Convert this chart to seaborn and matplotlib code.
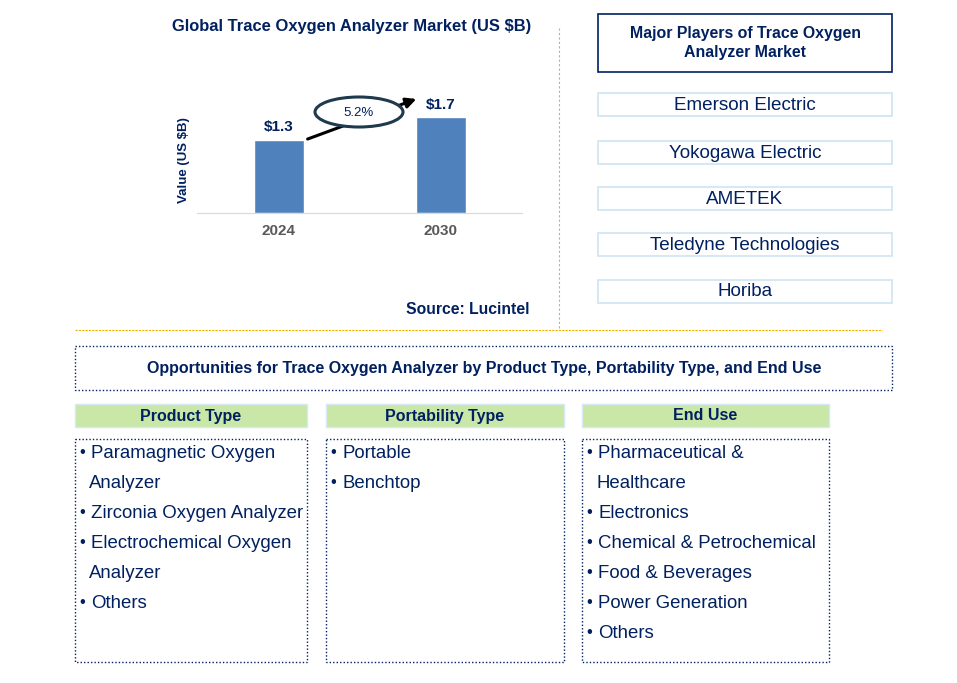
import matplotlib
matplotlib.use("Agg")
import matplotlib.pyplot as plt
from matplotlib.patches import Rectangle, Ellipse
import seaborn as sns
import pandas as pd

# chart data
years = ["2024", "2030"]
values = [1.3, 1.7]
cagr = "5.2%"

players = ["Emerson Electric", "Yokogawa Electric", "AMETEK",
           "Teledyne Technologies", "Horiba"]

segment_titles = ["Product Type", "Portability Type", "End Use"]
product_items = ["Paramagnetic Oxygen\nAnalyzer", "Zirconia Oxygen Analyzer",
                 "Electrochemical Oxygen\nAnalyzer", "Others"]
portability_items = ["Portable", "Benchtop"]
end_use_items = ["Pharmaceutical &\nHealthcare", "Electronics", "Chemical & Petrochemical",
                 "Food & Beverages", "Power Generation", "Others"]

NAVY = "#002060"
BAR = "#4f81bd"
W, H = 957, 683

sns.set_style("white")
plt.rcParams['font.family'] = ['Liberation Sans', 'DejaVu Sans']

fig = plt.figure(figsize=(W / 100, H / 100), dpi=100)

# bar chart
ax = fig.add_axes([197 / W, 1 - 213 / H, 325 / W, 153 / H])
df = pd.DataFrame({"year": years, "value": values})
sns.barplot(data=df, x="year", y="value", color=BAR, width=0.31, saturation=1, ax=ax)
ax.set_xlim(-0.506, 1.5)
ax.set_ylim(0, 153 / 56.2)
ax.set_yticks([])
ax.set_xlabel("")
ax.set_ylabel("")
ax.patch.set_alpha(0)
for s in ["top", "right", "left"]:
    ax.spines[s].set_visible(False)
ax.spines["bottom"].set_color("#d9d9d9")
ax.tick_params(axis="x", length=0, pad=8)
for lab in ax.get_xticklabels():
    lab.set_fontweight("bold")
    lab.set_fontsize(11)
    lab.set_color("#595959")
for i, v in enumerate(values):
    ax.text(i, v + 0.1, f"${v}", ha="center", va="bottom", fontsize=11,
            fontweight="bold", color=NAVY)

# overlay axes in pixel coordinates
ov = fig.add_axes([0, 0, 1, 1])
ov.set_xlim(0, W)
ov.set_ylim(H, 0)
ov.axis("off")

ov.text(352, 27, "Global Trace Oxygen Analyzer Market (US $B)", ha="center", va="center",
        fontsize=11.9, fontweight="bold", color=NAVY)
ov.text(184, 160, "Value (US $B)", ha="center", va="center", rotation=90,
        fontsize=9.5, fontweight="bold", color=NAVY)
ov.annotate("", xy=(419, 98), xytext=(305, 140),
            arrowprops=dict(arrowstyle="-|>,head_width=0.3,head_length=0.6", color="black", lw=2.2))
ov.add_patch(Ellipse((359, 112), 88, 30, facecolor="white", edgecolor="#1f3a4d", lw=2.2, zorder=3))
ov.text(359, 113, cagr, ha="center", va="center", fontsize=9.5, color=NAVY, zorder=4)
ov.text(468, 310, "Source: Lucintel", ha="center", va="center", fontsize=11.3,
        fontweight="bold", color=NAVY)

# separators
ov.plot([559, 559], [28, 330], color="#b0b0b0", lw=0.8, ls=(0, (2, 2)))
ov.plot([75, 882], [330, 330], color="#f0b400", lw=0.8, ls=(0, (2, 1)))

# major players
ov.add_patch(Rectangle((598, 14), 294, 58, fill=False, edgecolor=NAVY, lw=1.2))
ov.text(745, 43, "Major Players of Trace Oxygen\nAnalyzer Market", ha="center", va="center",
        fontsize=11.4, fontweight="bold", color=NAVY, linespacing=1.35)
player_tops = [93, 141, 187, 233, 280]
for name, top in zip(players, player_tops):
    ov.add_patch(Rectangle((598, top), 294, 23, fill=False, edgecolor="#cde4f2", lw=1.2))
    ov.text(745, top + 12, name, ha="center", va="center", fontsize=13.6, color=NAVY)

# opportunities
ov.add_patch(Rectangle((75, 346), 817, 44, fill=False, edgecolor=NAVY, lw=1, ls=(0, (1, 1.5))))
ov.text(484, 368, "Opportunities for Trace Oxygen Analyzer by Product Type, Portability Type, and End Use",
        ha="center", va="center", fontsize=11.5, fontweight="bold", color=NAVY)

columns = [(75, 232), (326, 238), (582, 247)]
item_lists = [product_items, portability_items, end_use_items]
for (x0, w), title, items in zip(columns, segment_titles, item_lists):
    ov.add_patch(Rectangle((x0, 404), w, 23, facecolor="#c9e7a7", edgecolor="#d6e9f5", lw=1))
    ov.text(x0 + w / 2, 416, title, ha="center", va="center", fontsize=11.5,
            fontweight="bold", color=NAVY)
    ov.add_patch(Rectangle((x0, 439), w, 223, fill=False, edgecolor=NAVY, lw=1, ls=(0, (1, 1.5))))
    y = 453
    for item in items:
        lines = item.split("\n")
        ov.text(x0 + 4, y, "\u2022", ha="left", va="center", fontsize=12, color=NAVY)
        for k, line in enumerate(lines):
            ov.text(x0 + (16 if k == 0 else 14), y, line, ha="left", va="center",
                    fontsize=13.4, color=NAVY)
            y += 30

fig.savefig("out.png", dpi=100)
